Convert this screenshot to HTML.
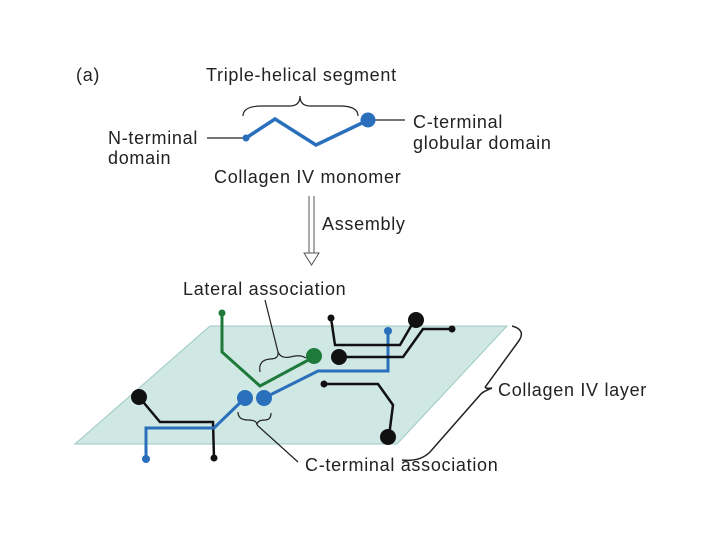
<!DOCTYPE html>
<html><head><style>html,body{margin:0;padding:0;background:#fff}svg{display:block}text{font-family:"Liberation Sans",sans-serif;font-size:18px;letter-spacing:0.7px;fill:#222}</style></head><body>
<svg width="720" height="540" viewBox="0 0 720 540">
<text x="76" y="81">(a)</text>
<text x="206" y="81">Triple-helical segment</text>
<path d="M243,116 Q243,106 262,106 L290,106 Q300,106 300,96 Q300,106 310,106 L340,106 Q358,106 358,116" fill="none" stroke="#222" stroke-width="1.2"/>
<text x="108" y="144">N-terminal</text><text x="108" y="164">domain</text>
<line x1="207" y1="138" x2="243" y2="138" stroke="#222" stroke-width="1.3"/>
<line x1="372" y1="120" x2="405" y2="120" stroke="#222" stroke-width="1.3"/>
<polyline points="246,138 275,119 316,145 362,123" fill="none" stroke="#2a6fbb" stroke-width="3.5"/>
<circle cx="246" cy="138" r="3.5" fill="#2a6fbb"/><circle cx="368" cy="120" r="7.5" fill="#2a6fbb"/>
<text x="413" y="128">C-terminal</text><text x="413" y="149">globular domain</text>
<text x="214" y="183">Collagen IV monomer</text>
<path d="M309,196 V253 M314,196 V253 M304,253 L311.5,265 L319,253 Z" fill="#fff" stroke="#555" stroke-width="1"/>
<text x="322" y="230">Assembly</text>
<text x="183" y="295">Lateral association</text>
<polygon points="210,326 507,326 397,444 75,444" fill="#cfe8e4" stroke="#9cc9c2" stroke-width="1"/>
<polyline points="139,397 160,422 213,422 214,458" fill="none" stroke="#111" stroke-width="2.5"/>
<circle cx="139" cy="397" r="8" fill="#111"/><circle cx="214" cy="458" r="3.5" fill="#111"/>
<polyline points="222,313 222,352 260,386 314,357" fill="none" stroke="#1e7a3a" stroke-width="3"/>
<circle cx="222" cy="313" r="3.5" fill="#1e7a3a"/><circle cx="314" cy="356" r="8" fill="#1e7a3a"/>
<polyline points="146,459 146,428 214,428 245,398" fill="none" stroke="#2a6fbb" stroke-width="3"/>
<polyline points="264,398 318,371 388,371 388,331" fill="none" stroke="#2a6fbb" stroke-width="3"/>
<circle cx="146" cy="459" r="4" fill="#2a6fbb"/><circle cx="245" cy="398" r="8" fill="#2a6fbb"/><circle cx="264" cy="398" r="8" fill="#2a6fbb"/><circle cx="388" cy="331" r="4" fill="#2a6fbb"/>
<polyline points="331,318 335,345 400,345 414,321" fill="none" stroke="#111" stroke-width="2.5"/>
<circle cx="331" cy="318" r="3.5" fill="#111"/><circle cx="416" cy="320" r="8" fill="#111"/>
<polyline points="339,357 403,357 423,329 452,329" fill="none" stroke="#111" stroke-width="2.5"/>
<circle cx="339" cy="357" r="8" fill="#111"/><circle cx="452" cy="329" r="3.5" fill="#111"/>
<polyline points="324,384 378,384 393,405 389,436" fill="none" stroke="#111" stroke-width="2.5"/>
<circle cx="324" cy="384" r="3.5" fill="#111"/><circle cx="388" cy="437" r="8" fill="#111"/>
<path d="M260,372 Q258,360 270,359 Q279,359 278,352 Q281,359 290,357 Q300,354 306,358" fill="none" stroke="#222" stroke-width="1.2"/>
<line x1="265" y1="300" x2="278" y2="352" stroke="#222" stroke-width="1.2"/>
<path d="M238,412 Q238,420 248,420 Q257,420 257,425 Q257,420 265,420 Q271,420 271,413" fill="none" stroke="#222" stroke-width="1.2"/>
<line x1="257" y1="425" x2="298" y2="462" stroke="#222" stroke-width="1.2"/>
<text x="305" y="471">C-terminal association</text>
<path d="M512,326 Q527,330 518,342 L486,386 Q483,389 492,388 Q482,392 480,395 L430,452 Q420,462 402,460" fill="none" stroke="#222" stroke-width="1.5"/>
<text x="498" y="396">Collagen IV layer</text>
</svg>
</body></html>
